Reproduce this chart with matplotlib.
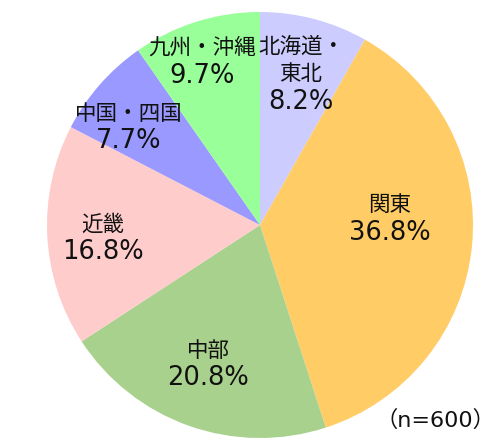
import numpy as np
import matplotlib
matplotlib.use("Agg")
import matplotlib.pyplot as plt

plt.rcParams['font.family'] = ['Noto Sans CJK JP', 'DejaVu Sans']

categories = ["北海道・\n東北", "関東", "中部", "近畿", "中国・四国", "九州・沖縄"]
values = [8.2, 36.8, 20.8, 16.8, 7.7, 9.7]
colors = ["#CCCCFF", "#FFCC66", "#A9D18E", "#FFCCCC", "#9999FF", "#99FF99"]
note = "（n=600）"

# label block centres, relative to pie centre, in units of radius (layout only)
label_pos = [(0.192, 0.718), (0.610, 0.038), (-0.244, -0.646),
             (-0.737, -0.054), (-0.617, 0.467), (-0.272, 0.775)]

W, H = 500, 444
fig = plt.figure(figsize=(W / 100, H / 100), dpi=100)
ax = fig.add_axes([0, 0, 1, 1])
cx, cy, R = 260, H - 225, 213
wedges, _ = ax.pie(values, colors=colors, startangle=90, counterclock=False,
                   center=(cx, cy), radius=R, wedgeprops=dict(linewidth=0))
ax.set_xlim(0, W)
ax.set_ylim(0, H)
ax.set_aspect('auto')
ax.axis('off')

LS = 27.5  # line step in pixels
for cat, v, (fx, fy) in zip(categories, values, label_pos):
    lines = cat.split("\n") + [f"{v:.1f}%"]
    n = len(lines)
    bx = cx + fx * R
    by = cy + fy * R
    for i, ln in enumerate(lines):
        yc = by + ((n - 1) / 2 - i) * LS
        if i == n - 1:
            ax.text(bx, yc - 9, ln, ha='center', va='baseline', fontsize=18.5,
                    family=['DejaVu Sans'], color='#111111')
        else:
            ax.text(bx, yc - 8, ln, ha='center', va='baseline', fontsize=15.5,
                    family=['Noto Sans CJK JP', 'DejaVu Sans'], color='#111111')

ax.text(435.5, H - 427, note, ha='center', va='baseline',
        fontsize=16, family=['DejaVu Sans', 'Noto Sans CJK JP'], color='#111111')

fig.savefig("out.png", dpi=100)
